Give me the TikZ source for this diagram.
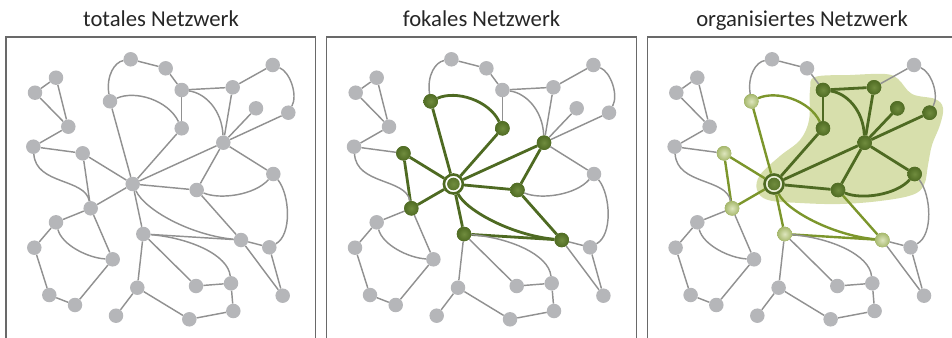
\documentclass[tikz,border=0pt]{standalone}
\usepackage{fontspec}
\setmainfont{Carlito}
\usetikzlibrary{backgrounds}

\definecolor{nodegrey}{RGB}{181,182,185}
\definecolor{edgegrey}{RGB}{145,145,145}
\definecolor{frameclr}{RGB}{105,105,105}
\definecolor{dkgreen}{RGB}{78,106,34}
\definecolor{dkgreenin}{RGB}{112,140,62}
\definecolor{ltgreen}{RGB}{124,150,44}
\definecolor{ltgreenin}{RGB}{222,230,190}
\definecolor{ltgreenout}{RGB}{122,148,44}
\definecolor{regionclr}{RGB}{215,223,172}

\pgfdeclareradialshading{dkball}{\pgfpoint{0bp}{0bp}}{color(0bp)=(dkgreenin); color(22bp)=(dkgreen!85!dkgreenin); color(50bp)=(dkgreen)}
\pgfdeclareradialshading{ltball}{\pgfpoint{0bp}{0bp}}{color(0bp)=(ltgreenin); color(25bp)=(ltgreenin!45!ltgreenout); color(50bp)=(ltgreenout)}

\pgfdeclarelayer{region}
\pgfdeclarelayer{edges}
\pgfsetlayers{region,edges,main}

\tikzset{
  gnode/.style={circle, fill=nodegrey, inner sep=0, minimum size=14.5},
  dknode/.style={circle, fill=dkgreen, inner sep=0, minimum size=14.5, shading=dkball},
  ltnode/.style={circle, fill=ltgreenout, inner sep=0, minimum size=14.5, shading=ltball},
  focus/.style={circle, inner sep=0, minimum size=19, draw=dkgreen, line width=2.6, fill=white,
    path picture={\shade[shading=dkball] (path picture bounding box.center) circle (6.3);}},
  gedge/.style={draw=edgegrey, line width=1.45},
  dkedge/.style={draw=dkgreen, line width=2.8},
  ltedge/.style={draw=ltgreen, line width=2.4},
  frame/.style={draw=frameclr, line width=1.2},
  title/.style={anchor=base, inner sep=0, font=\fontsize{22.7}{27}\selectfont, text=black!85},
}

% one network; #1 is the panel prefix used for node names and per-panel styles
\newcommand\network[1]{%
  \foreach \i/\x/\y in {1/130.7/59.3, 2/165.7/68.3, 3/181.7/90, 4/232.7/87.3,
      5/272.7/65, 6/256/108.3, 7/288.3/112.7, 8/110/101.3, 9/181.7/128.3,
      10/223.3/142.7, 11/56/77.7, 12/35/92.7, 13/68.3/126.7, 14/33.3/146.7,
      15/82.7/153.3, 16/132.7/184, 17/196.7/190, 18/273.3/174, 19/90.7/208.3,
      20/56/222.3, 21/34.3/247.7, 22/112.7/259.3, 23/49.3/295, 24/75/305,
      25/143.3/234, 26/241/240, 27/269.3/247.3, 28/282.7/295.7, 29/137.3/287.7,
      30/116/315.7, 31/196/286, 32/231/283.3, 33/233.3/311, 34/189.3/319.3}
    {\node[gnode, #1n\i/.try] (#1\i) at (\x,\y) {};}
  \begin{pgfonlayer}{edges}
  \foreach \a/\b in {12/11, 11/13, 12/13, 13/14, 14/15, 15/16, 15/19, 16/19,
      16/8, 1/2, 2/3, 3/9, 9/16, 3/4, 4/5, 4/10, 6/10, 7/10, 10/16, 10/17,
      10/18, 16/17, 17/26, 16/25, 25/26, 26/27, 26/28, 27/28, 25/31, 25/29,
      31/32, 32/33, 33/34, 29/34, 29/30, 19/20, 19/22, 20/21, 21/23, 23/24, 24/22}
    {\draw[gedge, #1\a-\b/.try] (#1\a) -- (#1\b);}
  \draw[gedge, #114-19/.try] (#114) .. controls (36,185) and (85,178) .. (#119);
  \draw[gedge, #18-1/.try] (#18) .. controls (106,75) and (115,62) .. (#11);
  \draw[gedge, #18-9/.try] (#18) .. controls (135,90) and (168,100) .. (#19);
  \draw[gedge, #15-7/.try] (#15) .. controls (290,72) and (298,95) .. (#17);
  \draw[gedge, #13-10/.try] (#13) .. controls (205,93) and (222,110) .. (#110);
  \draw[gedge, #117-18/.try] (#117) .. controls (220,200) and (255,195) .. (#118);
  \draw[gedge, #118-27/.try] (#118) .. controls (290,195) and (292,235) .. (#127);
  \draw[gedge, #116-26/.try] (#116) .. controls (145,210) and (190,235) .. (#126);
  \draw[gedge, #125-32/.try] (#125) .. controls (190,238) and (228,255) .. (#132);
  \draw[gedge, #120-22/.try] (#120) .. controls (62,245) and (88,258) .. (#122);
  \end{pgfonlayer}
}

\begin{document}
\begin{tikzpicture}[x=1pt, y=-1pt]
\useasboundingbox (0,0) rectangle (952,337);

% titles
\node[title] (t1) at (161,26.7) {totales Netzwerk};
\node[title] (t2) at (481.5,26.7) {fokales Netzwerk};
\node[title] (t3) at (802,26.7) {organisiertes Netzwerk};

% frames, open towards the lower edge
\draw[frame] (6,37) rectangle (315.7,360);
\draw[frame] (326.7,37) rectangle (636.4,360);
\draw[frame] (647.3,37) rectangle (957,360);

% total network
\begin{scope}
  \network{A}
\end{scope}

% focal network
\begin{scope}[xshift=320.7,
  Bn8/.style=dknode, Bn9/.style=dknode, Bn10/.style=dknode, Bn15/.style=dknode,
  Bn17/.style=dknode, Bn19/.style=dknode, Bn25/.style=dknode, Bn26/.style=dknode,
  Bn16/.style=focus,
  B15-16/.style=dkedge, B15-19/.style=dkedge, B16-19/.style=dkedge, B16-8/.style=dkedge,
  B9-16/.style=dkedge, B10-16/.style=dkedge, B10-17/.style=dkedge, B16-17/.style=dkedge,
  B17-26/.style=dkedge, B16-25/.style=dkedge, B25-26/.style=dkedge, B8-9/.style=dkedge,
  B16-26/.style=dkedge]
  \network{B}
\end{scope}

% organised network
\begin{pgfonlayer}{region}
\fill[regionclr] plot[smooth cycle, tension=0.6] coordinates {
  (815,77) (850,75) (885,74) (898,79) (912,94) (935,99) (943,108) (940,125)
  (932,145) (928,165) (924,185) (912,195) (880,201) (840,204) (800,203)
  (768,200) (757,190) (760,175) (780,156) (800,140) (809,120) (810,90)};
\end{pgfonlayer}
\begin{scope}[xshift=641.3,
  Cn3/.style=dknode, Cn4/.style=dknode, Cn6/.style=dknode, Cn7/.style=dknode,
  Cn9/.style=dknode, Cn10/.style=dknode, Cn17/.style=dknode, Cn18/.style=dknode,
  Cn8/.style=ltnode, Cn15/.style=ltnode, Cn19/.style=ltnode, Cn25/.style=ltnode,
  Cn26/.style=ltnode,
  Cn16/.style={focus, fill=white!55!regionclr},
  C3-9/.style=dkedge, C3-4/.style=dkedge, C4-10/.style=dkedge, C6-10/.style=dkedge,
  C7-10/.style=dkedge, C10-16/.style=dkedge, C10-17/.style=dkedge, C10-18/.style=dkedge,
  C16-17/.style=dkedge, C9-16/.style=dkedge, C3-10/.style=dkedge, C17-18/.style=dkedge,
  C15-16/.style=ltedge, C15-19/.style=ltedge, C16-19/.style=ltedge, C16-8/.style=ltedge,
  C17-26/.style=ltedge, C16-25/.style=ltedge, C25-26/.style=ltedge, C8-9/.style=ltedge,
  C16-26/.style=ltedge]
  \network{C}
\end{scope}
\end{tikzpicture}
\end{document}
